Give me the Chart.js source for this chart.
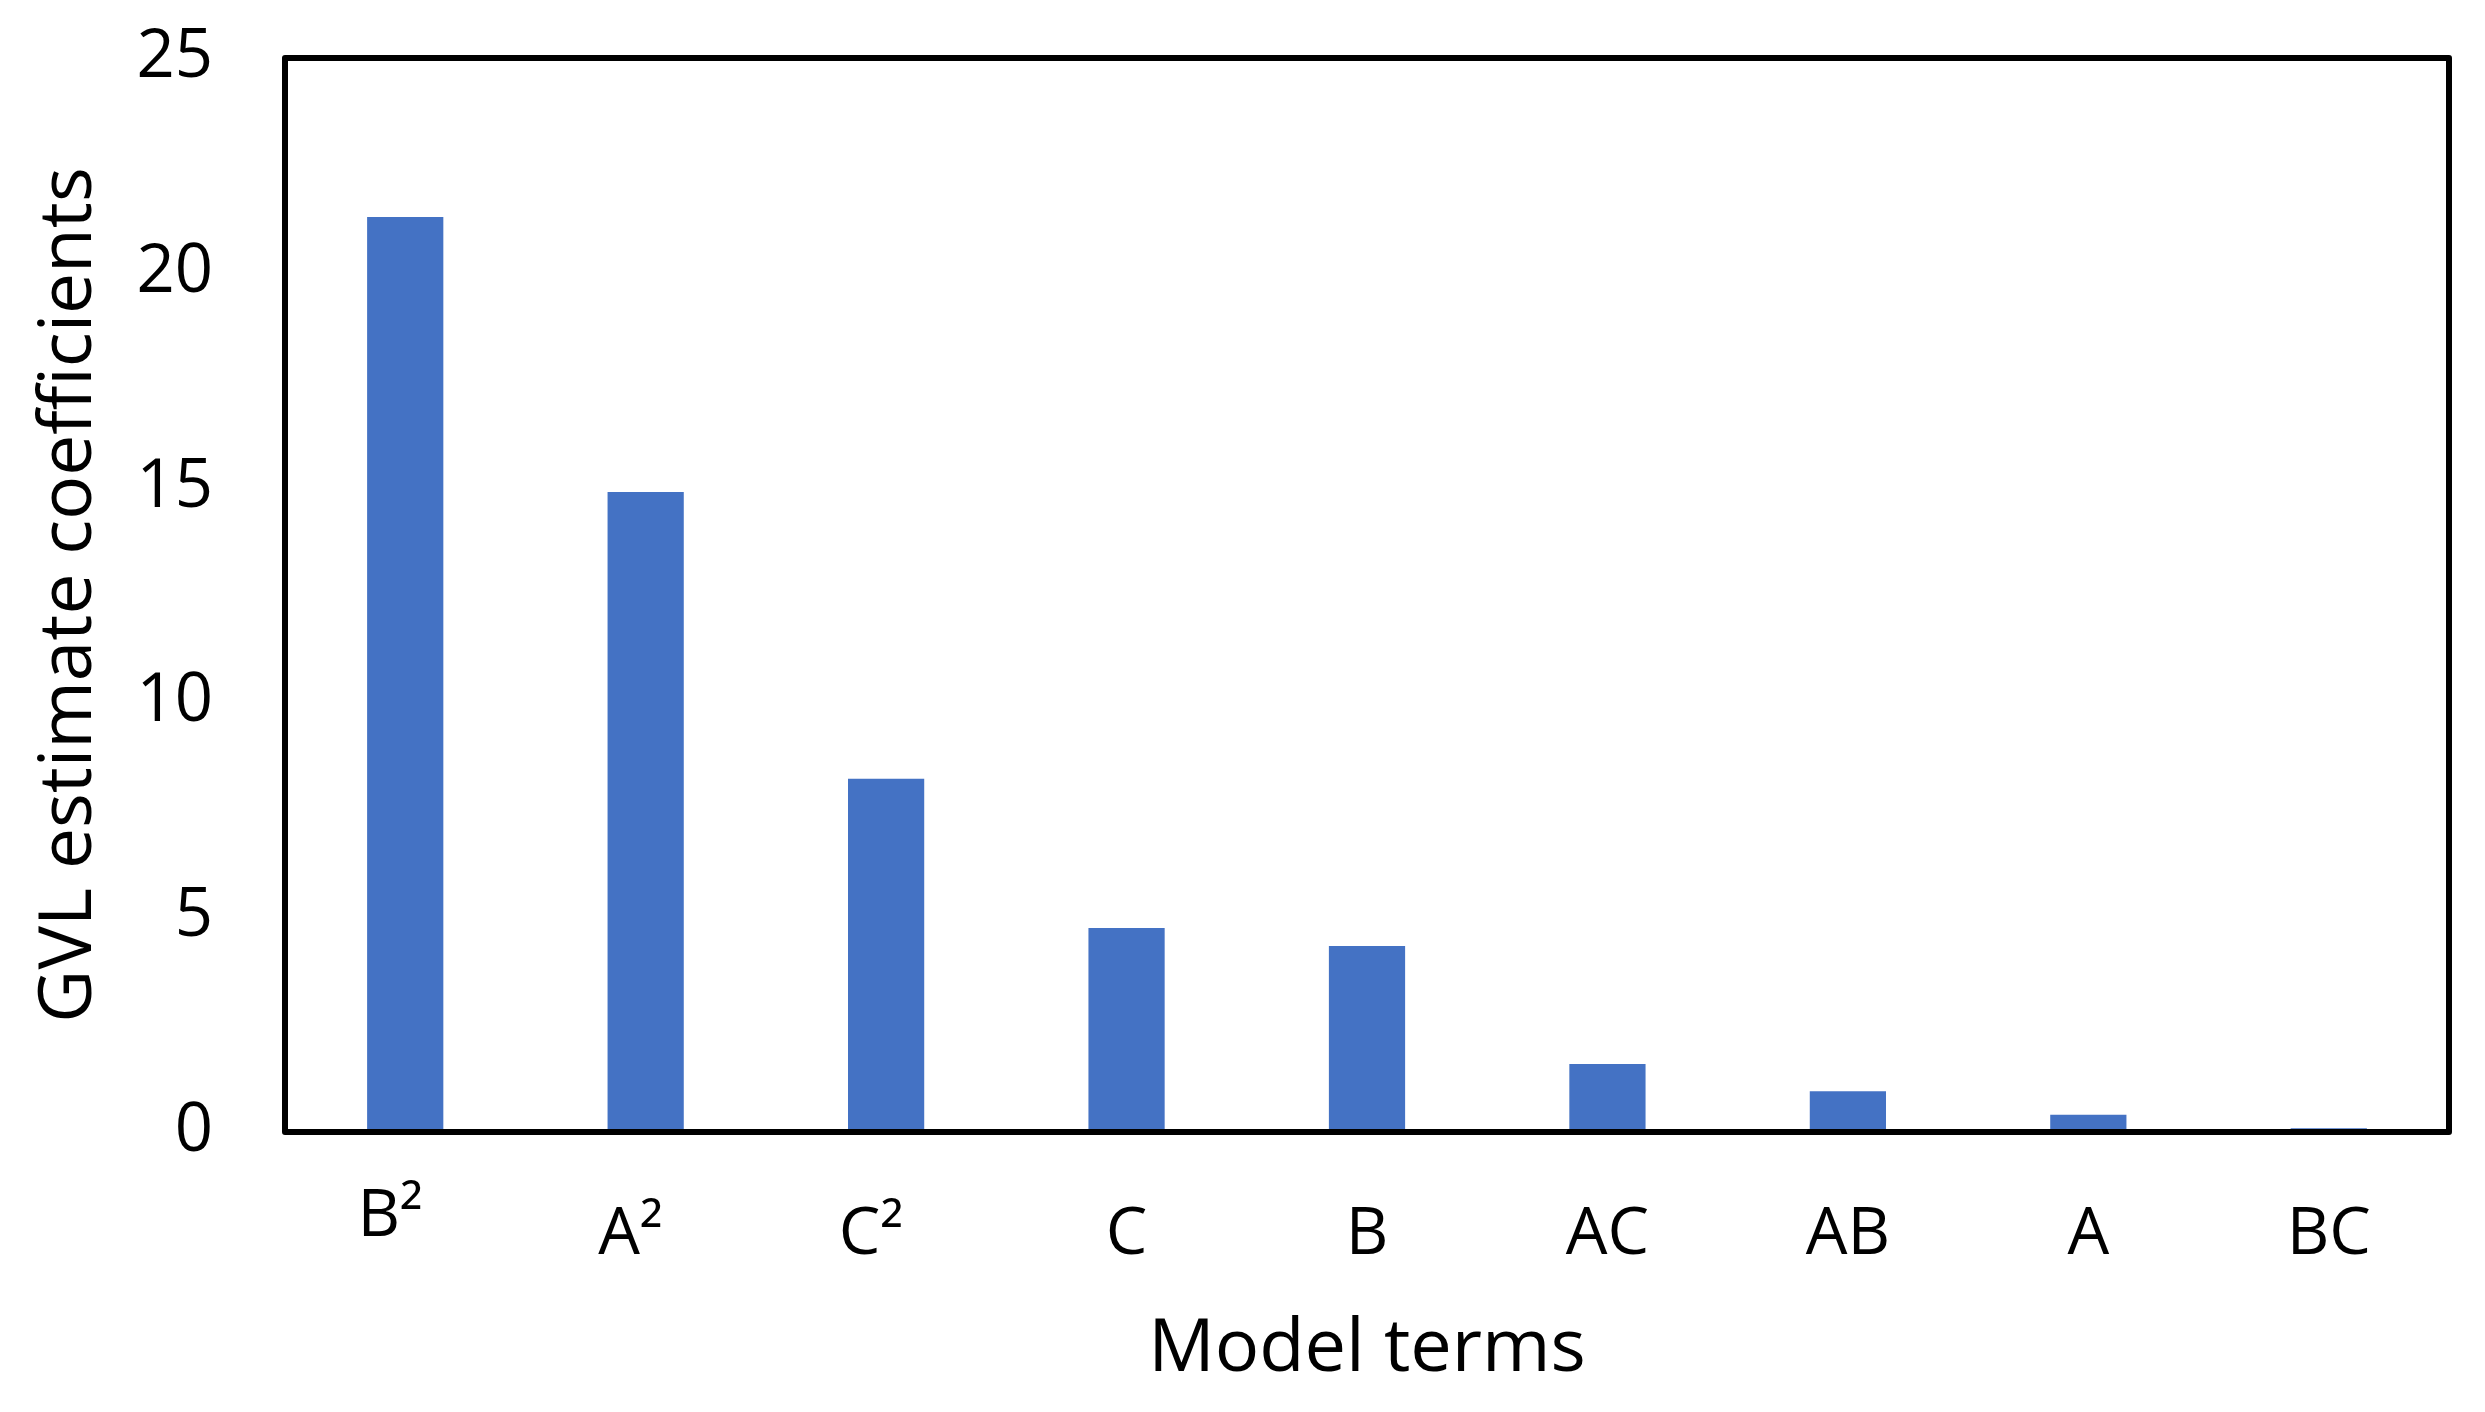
<!DOCTYPE html>
<html>
<head>
<meta charset="utf-8">
<title>GVL estimate coefficients</title>
<script src="https://cdn.jsdelivr.net/npm/chart.js@4/dist/chart.umd.min.js"></script>
<style>
    html, body { margin: 0; padding: 0; background: #fff; }
    #chart { display: block; }
</style>
</head>
<body>
<canvas id="chart" width="2485" height="1412"></canvas>
<script>
// Model terms, sorted by coefficient size
const terms = ['B²', 'A²', 'C²', 'C', 'B', 'AC', 'AB', 'A', 'BC'];
const coefficients = [21.3, 14.9, 8.22, 4.75, 4.33, 1.58, 0.95, 0.40, 0.09];
const yTicks = [0, 5, 10, 15, 20, 25];

const FONT = '"Open Sans", "Noto Sans", sans-serif';
const BAR_BLUE = '#4472C4';

// Box around the plot area, drawn on top of the bars
const frameBox = {
    id: 'frameBox',
    afterDatasetsDraw(chart) {
        const { ctx, chartArea: a } = chart;
        ctx.save();
        ctx.strokeStyle = '#000';
        ctx.lineWidth = 6;
        ctx.lineJoin = 'round';
        ctx.strokeRect(a.left, a.top, a.right - a.left, a.bottom - a.top);
        ctx.restore();
    }
};

// Category labels under the bars.
// In the original the squared terms sit a bit left of centre, and B² is raised.
const termLabels = {
    id: 'termLabels',
    afterDraw(chart) {
        const { ctx, chartArea: a } = chart;
        const x = chart.scales.x;
        ctx.save();
        ctx.font = `66px ${FONT}`;
        ctx.fillStyle = '#000';
        ctx.textAlign = 'center';
        ctx.textBaseline = 'alphabetic';
        terms.forEach((t, i) => {
            const lift = i === 0 ? 18 : 0;
            const nudge = t.includes('²') ? 15 : 0;
            ctx.fillText(t, x.getPixelForValue(i) - nudge, a.bottom + 122 - lift);
        });
        ctx.restore();
    }
};

new Chart(document.getElementById('chart'), {
    type: 'bar',
    data: {
        labels: terms,
        datasets: [{
            data: coefficients,
            backgroundColor: BAR_BLUE,
            borderWidth: 0,
            categoryPercentage: 1,
            barPercentage: 0.317
        }]
    },
    options: {
        responsive: false,
        animation: false,
        devicePixelRatio: 1,
        layout: { padding: { top: 58, right: 36, bottom: 0, left: 0 } },
        plugins: {
            legend: { display: false },
            tooltip: { enabled: false }
        },
        scales: {
            x: {
                grid: { display: false, drawTicks: false },
                border: { display: false },
                ticks: { display: false },
                title: {
                    display: true,
                    text: 'Model terms',
                    color: '#000',
                    font: { family: FONT, size: 74 },
                    padding: { top: 0, bottom: 18 }
                },
                afterFit(scale) { scale.height = 280; }
            },
            y: {
                min: 0,
                max: 25,
                afterBuildTicks(scale) {
                    scale.ticks = yTicks.map(v => ({ value: v }));
                },
                grid: { display: false, drawTicks: false },
                border: { display: false },
                ticks: {
                    color: '#000',
                    padding: 72,
                    font: { family: FONT, size: 67 }
                },
                title: {
                    display: true,
                    text: 'GVL estimate coefficients',
                    color: '#000',
                    font: { family: FONT, size: 73 },
                    padding: { top: 26, bottom: 0 }
                },
                afterFit(scale) {
                    scale.width = 285;
                    // the big label padding is horizontal only; don't let it push the plot down
                    scale.paddingTop = 40;
                    scale.paddingBottom = 40;
                }
            }
        }
    },
    plugins: [frameBox, termLabels]
});
</script>
</body>
</html>
